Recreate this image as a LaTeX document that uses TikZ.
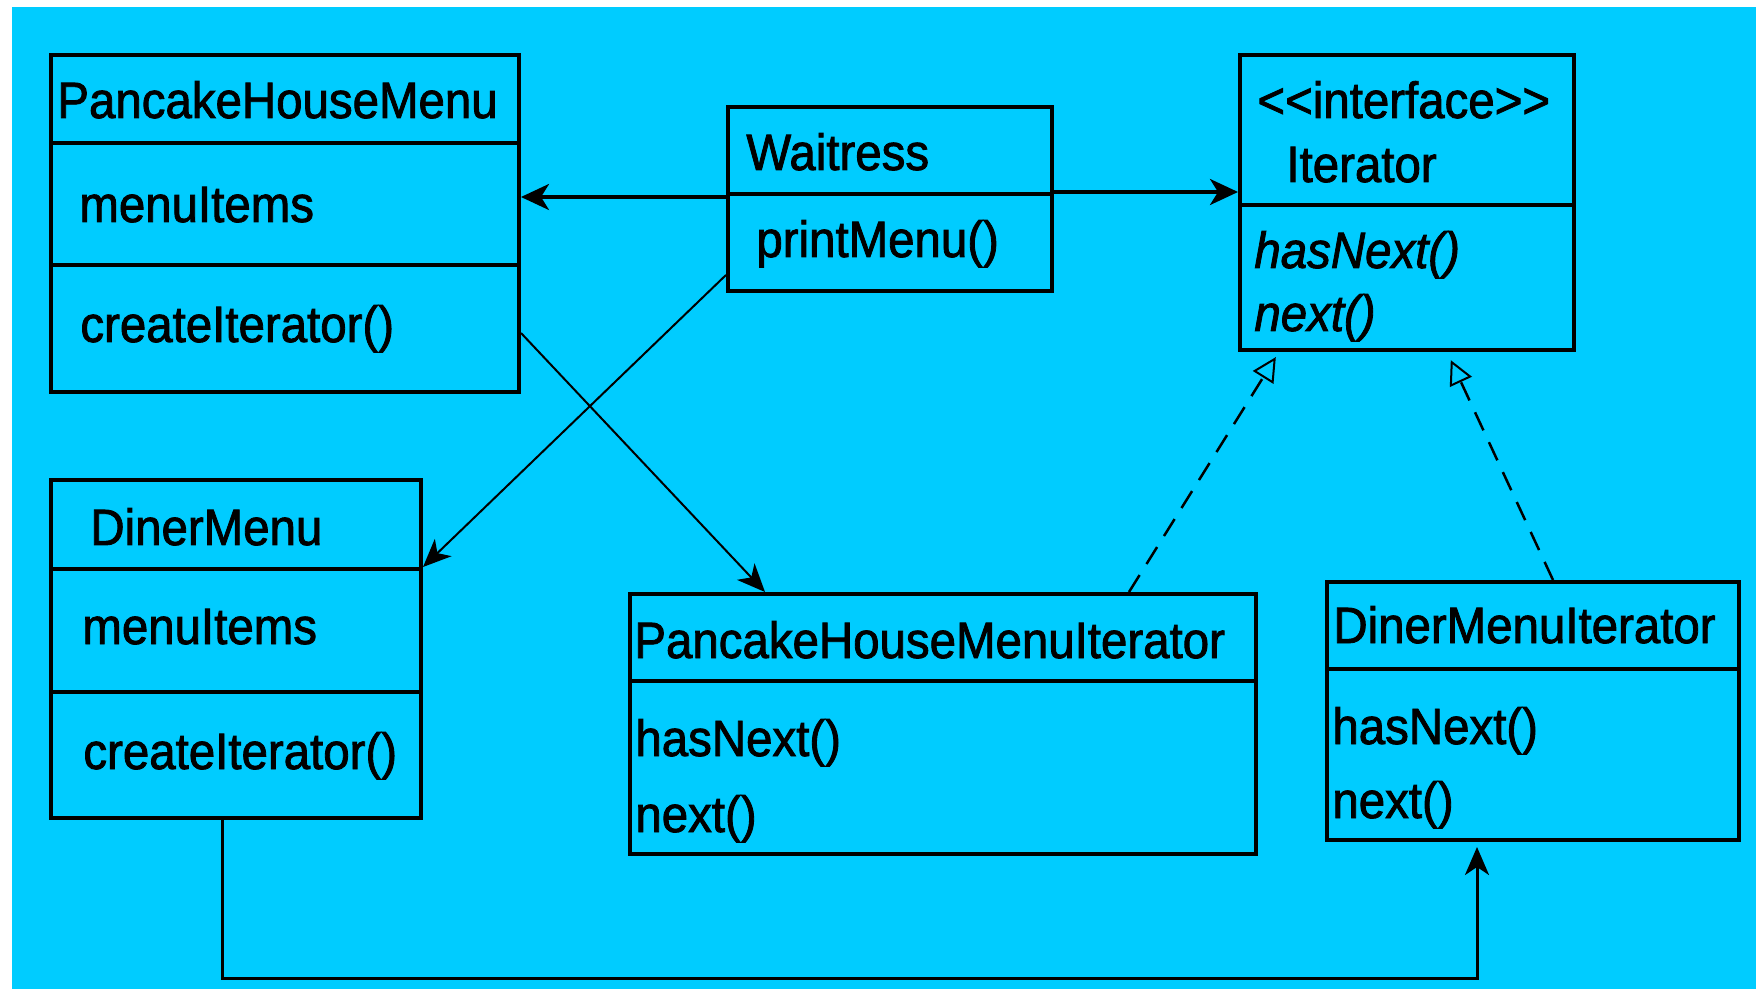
\documentclass[tikz,border=0pt]{standalone}
\usepackage{fontspec}
\setmainfont{Liberation Sans}[FakeStretch=0.93,FakeBold=1.6]
\usetikzlibrary{arrows.meta}
\definecolor{bgblue}{HTML}{00CCFF}
\begin{document}
\begin{tikzpicture}[x=0.5pt,y=-0.5pt,
  box/.style={draw, line width=2pt, rectangle, inner sep=0pt, anchor=north west},
  divider/.style={line width=2pt},
  txt/.style={anchor=base west, inner sep=0pt, font=\fontsize{25.5pt}{30pt}\selectfont},
  itxt/.style={txt, font=\fontsize{25.5pt}{30pt}\selectfont\itshape},
  thickarrow/.style={line width=1.75pt, -{Stealth[length=14pt,width=13pt,inset=4pt]}},
  thinarrow/.style={line width=1pt, -{Stealth[length=14pt,width=12pt,inset=4pt]}},
  realize/.style={line width=1.25pt, dash pattern=on 10pt off 6.5pt, -{Triangle[open,length=12pt,width=12pt,line width=1pt]}},
  bottomarrow/.style={line width=1.5pt, -{Stealth[length=14pt,width=12pt,inset=4pt]}}
]
\useasboundingbox (0,0) rectangle (1756,989);
\fill[bgblue] (12,7) rectangle (1756,989);

% boxes
\node[box, minimum width=234pt, minimum height=168.5pt] (phm) at (49,53) {};
\node[box, minimum width=162pt, minimum height=92pt] (wt) at (726,105) {};
\node[box, minimum width=167pt, minimum height=147.5pt] (it) at (1238,53) {};
\node[box, minimum width=185pt, minimum height=169pt] (dm) at (49,478) {};
\node[box, minimum width=313pt, minimum height=130pt] (phmi) at (628,592) {};
\node[box, minimum width=206pt, minimum height=129pt] (dmi) at (1325,580) {};

% dividers
\draw[divider] (phm.west |- 0,143) -- (phm.east |- 0,143);
\draw[divider] (phm.west |- 0,265) -- (phm.east |- 0,265);
\draw[divider] (wt.west |- 0,194) -- (wt.east |- 0,194);
\draw[divider] (it.west |- 0,205) -- (it.east |- 0,205);
\draw[divider] (dm.west |- 0,569) -- (dm.east |- 0,569);
\draw[divider] (dm.west |- 0,692) -- (dm.east |- 0,692);
\draw[divider] (phmi.west |- 0,681) -- (phmi.east |- 0,681);
\draw[divider] (dmi.west |- 0,669) -- (dmi.east |- 0,669);

% texts
\node[txt] (phmT) at (57,118) {PancakeHouseMenu};
\node[txt] (phmA) at (79,222) {menuItems};
\node[txt] (phmO) at (80,342) {createIterator()};
\node[txt] (wtT) at (746,170) {Waitress};
\node[txt] (wtO) at (756,257) {printMenu()};
\node[txt] (itS) at (1257,118) {<{}<interface>{}>};
\node[txt] (itT) at (1286,182) {Iterator};
\node[itxt] (itO1) at (1254,268) {hasNext()};
\node[itxt] (itO2) at (1254,331) {next()};
\node[txt] (dmT) at (90,545) {DinerMenu};
\node[txt] (dmA) at (82,644) {menuItems};
\node[txt] (dmO) at (83,769) {createIterator()};
\node[txt] (phmiT) at (634,658) {PancakeHouseMenuIterator};
\node[txt] (phmiO1) at (635,756) {hasNext()};
\node[txt] (phmiO2) at (635,832) {next()};
\node[txt] (dmiT) at (1333,643) {DinerMenuIterator};
\node[txt] (dmiO1) at (1332,744) {hasNext()};
\node[txt] (dmiO2) at (1332,818) {next()};

% connectors
\draw[thickarrow] (wt.west |- 0,197) -- (phm.east |- 0,197);
\draw[thickarrow] (wt.east |- 0,192) -- (it.west |- 0,192);
\draw[thinarrow] (wt.west |- 0,275) -- (dm.east |- 0,567);
\draw[thinarrow] (phm.east |- 0,333) -- (phmi.north -| 765,0);
\draw[realize, shorten >=3pt] (phmi.north -| 1129,0) -- (it.south -| 1279,0);
\draw[realize, shorten >=4.5pt] (dmi.north -| 1553,0) -- (it.south -| 1447,0);
\draw[bottomarrow, shorten >=2.5pt] (dm.south -| 222,0) -- (222,978) -- (1477,978) -- (dmi.south -| 1477,0);
\end{tikzpicture}
\end{document}
